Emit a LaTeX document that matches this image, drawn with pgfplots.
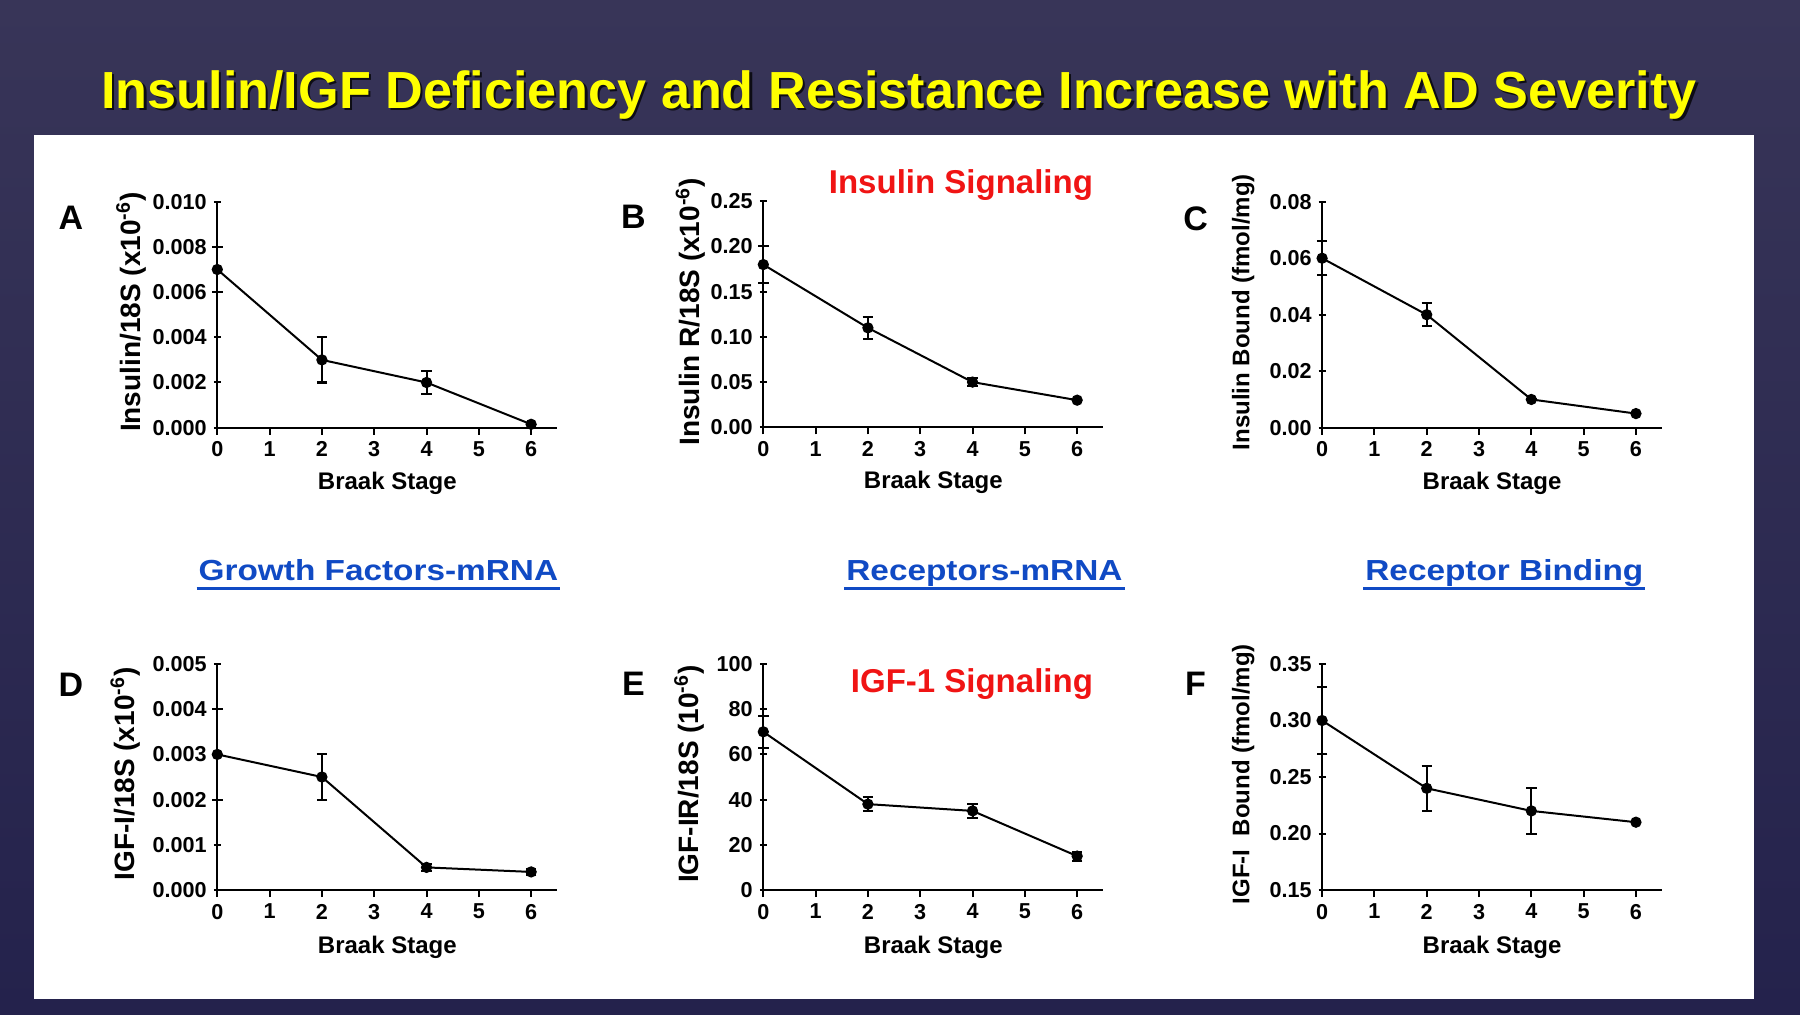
\documentclass[border=0pt]{standalone}
\usepackage{fontspec}
\setmainfont{Liberation Sans}
\usepackage{graphicx}
\usepackage{pgfplots}
\pgfplotsset{compat=1.18}
\definecolor{bgtop}{RGB}{56,53,88}
\definecolor{bgbot}{RGB}{36,34,76}
\definecolor{ttlyellow}{RGB}{255,255,0}
\definecolor{hdrred}{RGB}{240,20,20}
\definecolor{hdrblue}{RGB}{16,74,196}

\pgfplotsset{panel/.style={
  width=170pt, height=113pt, scale only axis,
  xmin=0, xmax=6.5, xtick={0,1,2,3,4,5,6},
  axis x line*=bottom, axis y line*=left,
  axis line style={line width=1pt,-},
  every tick/.style={black,line width=1pt},
  major tick length=3.5pt,
  xtick align=outside, ytick align=center,
  tick label style={font=\fontsize{10.8}{12}\selectfont\bfseries},
  /pgf/number format/assume math mode=true,
  scaled y ticks=false,
  label style={font=\fontsize{14}{16}\selectfont\bfseries},
  xlabel={Braak Stage},
  xlabel style={font=\fontsize{12}{14}\selectfont\bfseries, anchor=center},
  clip=false,
}}
\pgfplotsset{dat/.style={black, line width=1pt, mark=*, mark size=2.3pt, mark options={solid,fill=black},
  error bars/.cd, y dir=both, y explicit,
  error bar style={line width=1pt,black},
  error mark options={line width=1pt,black,mark size=2.6pt,rotate=90}}}

\begin{document}
\begin{tikzpicture}
\path[use as bounding box] (0,0) rectangle (900pt,507pt);
\shade[top color=bgtop,bottom color=bgbot] (0,0) rectangle (900pt,507pt);
\fill[white] (17pt,7.5pt) rectangle (877pt,439.5pt);

% title
\node[anchor=base, inner sep=0, text=black, opacity=0.75] at (450.7pt,451.6pt)
  {\fontsize{26.1}{30}\selectfont\bfseries Insulin/IGF Deficiency and Resistance Increase with AD Severity};
\node[anchor=base, inner sep=0, text=ttlyellow] at (449.5pt,452.85pt)
  {\fontsize{26.1}{30}\selectfont\bfseries Insulin/IGF Deficiency and Resistance Increase with AD Severity};

% red headers
\node[anchor=base east, inner sep=0, text=hdrred] at (546.65pt,410.35pt)
  {\fontsize{16.5}{18}\selectfont\bfseries Insulin Signaling};
\node[anchor=base east, inner sep=0, text=hdrred] at (546.65pt,160.65pt)
  {\fontsize{16.5}{18}\selectfont\bfseries IGF-1 Signaling};

% blue headers
\node[anchor=base west, inner sep=0, text=hdrblue] (g1) at (99.15pt,217pt)
  {\scalebox{1.15}[1]{\fontsize{14.5}{16}\selectfont\bfseries Growth Factors-mRNA}};
\node[anchor=base west, inner sep=0, text=hdrblue] (g2) at (423pt,217pt)
  {\scalebox{1.15}[1]{\fontsize{14.5}{16}\selectfont\bfseries Receptors-mRNA}};
\node[anchor=base west, inner sep=0, text=hdrblue] (g3) at (682.5pt,217pt)
  {\scalebox{1.15}[1]{\fontsize{14.5}{16}\selectfont\bfseries Receptor Binding}};
\foreach \n in {g1,g2,g3}{
  \draw[hdrblue, line width=1.6pt] ([shift={(-0.8pt,-4.2pt)}]\n.base west) -- ([shift={(0.8pt,-4.2pt)}]\n.base east);
}

% panel letters
\begin{scope}[every node/.style={font=\fontsize{17}{19}\selectfont\bfseries, inner sep=0}]
\node at (35.5pt,397.85pt) {A};
\node at (316.7pt,398.7pt) {B};
\node at (597.8pt,397.85pt) {C};
\node at (35.5pt,164.5pt) {D};
\node at (316.7pt,165.3pt) {E};
\node at (597.8pt,165.3pt) {F};
\end{scope}

% Panel A
\begin{axis}[panel, at={(108.65pt,293.15pt)}, anchor=south west,
  ymin=0, ymax=0.010, ytick={0,0.002,0.004,0.006,0.008,0.010},
  yticklabel style={/pgf/number format/.cd, fixed, fixed zerofill, precision=3},
  ylabel={Insulin/18S (x10\textsuperscript{-6})},
  ylabel style={at={(axis description cs:-0.253,0.511)}, anchor=center},
  xlabel style={at={(axis description cs:0.5,-0.245)}}]
\addplot[dat] coordinates {(0,0.007) +- (0,0.001) (2,0.003) +- (0,0.001) (4,0.002) +- (0,0.0005) (6,0.00015) +- (0,0)};
\end{axis}

% Panel B
\begin{axis}[panel, at={(381.65pt,293.35pt)}, anchor=south west,
  ymin=0, ymax=0.25, ytick={0,0.05,0.10,0.15,0.20,0.25},
  yticklabel style={/pgf/number format/.cd, fixed, fixed zerofill, precision=2},
  ylabel={Insulin R/18S (x10\textsuperscript{-6})},
  ylabel style={at={(axis description cs:-0.2135,0.511)}, anchor=center},
  xlabel style={at={(axis description cs:0.5,-0.245)}}]
\addplot[dat] coordinates {(0,0.18) +- (0,0.02) (2,0.11) +- (0,0.012) (4,0.05) +- (0,0.004) (6,0.03) +- (0,0)};
\end{axis}

% Panel C
\begin{axis}[panel, at={(661.05pt,293.15pt)}, anchor=south west,
  ymin=0, ymax=0.08, ytick={0,0.02,0.04,0.06,0.08},
  yticklabel style={/pgf/number format/.cd, fixed, fixed zerofill, precision=2},
  ylabel={Insulin Bound (fmol/mg)},
  ylabel style={at={(axis description cs:-0.232,0.511)}, anchor=center, font=\fontsize{12}{14}\selectfont\bfseries},
  xlabel style={at={(axis description cs:0.5,-0.245)}}]
\addplot[dat] coordinates {(0,0.06) +- (0,0.006) (2,0.04) +- (0,0.004) (4,0.01) +- (0,0) (6,0.005) +- (0,0)};
\end{axis}

% Panel D
\begin{axis}[panel, at={(108.65pt,62pt)}, anchor=south west,
  ymin=0, ymax=0.005, ytick={0,0.001,0.002,0.003,0.004,0.005},
  yticklabel style={/pgf/number format/.cd, fixed, fixed zerofill, precision=3},
  ylabel={IGF-I/18S (x10\textsuperscript{-6})},
  ylabel style={at={(axis description cs:-0.27,0.513)}, anchor=center},
  xlabel style={at={(axis description cs:0.5,-0.254)}}]
\addplot[dat] coordinates {(0,0.003) +- (0,0.001) (2,0.0025) +- (0,0.0005) (4,0.0005) +- (0,0.00007) (6,0.0004) +- (0,0.00007)};
\end{axis}

% Panel E
\begin{axis}[panel, at={(381.65pt,62pt)}, anchor=south west,
  ymin=0, ymax=100, ytick={0,20,40,60,80,100},
  ylabel={IGF-IR/18S (10\textsuperscript{-6})},
  ylabel style={at={(axis description cs:-0.218,0.513)}, anchor=center},
  xlabel style={at={(axis description cs:0.5,-0.254)}}]
\addplot[dat] coordinates {(0,70) +- (0,7) (2,38) +- (0,3) (4,35) +- (0,3) (6,15) +- (0,2)};
\end{axis}

% Panel F
\begin{axis}[panel, at={(661.05pt,62pt)}, anchor=south west,
  ymin=0.15, ymax=0.35, ytick={0.15,0.20,0.25,0.30,0.35},
  yticklabel style={/pgf/number format/.cd, fixed, fixed zerofill, precision=2},
  ylabel={IGF-I~~Bound (fmol/mg)},
  ylabel style={at={(axis description cs:-0.232,0.513)}, anchor=center, font=\fontsize{12}{14}\selectfont\bfseries},
  xlabel style={at={(axis description cs:0.5,-0.254)}}]
\addplot[dat] coordinates {(0,0.30) +- (0,0.03) (2,0.24) +- (0,0.02) (4,0.22) +- (0,0.02) (6,0.21) +- (0,0)};
\end{axis}
\end{tikzpicture}
\end{document}
